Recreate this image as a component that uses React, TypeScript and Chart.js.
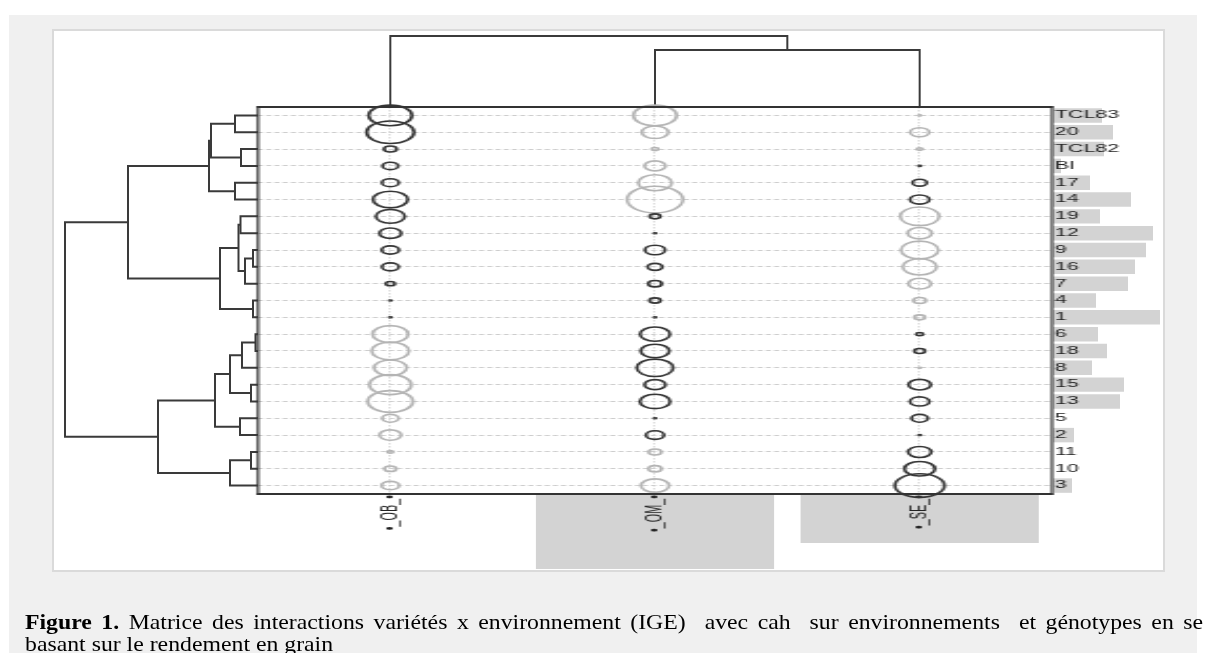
import React, { useEffect, useRef } from "react";
import { Chart, registerables } from "chart.js";

Chart.register(...registerables);

// ---------------- data ----------------
const genotypes = ["TCL83", "20", "TCL82", "BI", "17", "14", "19", "12", "9", "16", "7", "4", "1", "6", "18", "8", "15", "13", "5", "2", "11", "10", "3"];
const environments = ["OB", "OM", "SE"];
const environmentLabels = ["•_OB_•", "•_OM_•", "•_SE_•"];

// interaction values (sign: dark = positive, light = negative)
const interactionOB = [11, 12, 3.7, 4.4, 4.7, 9, 7.6, 5.9, 4.8, 4.7, 2.8, 0.8, 1, -9.2, -9.6, -8.5, -10.7, -11.5, -4.6, -5.9, -2, -3.5, -4.9];
const interactionOM = [-11, -7, -2.3, -5.7, -8.7, -14, 3.2, 1, 5.5, 4.2, 3.9, 3.3, 1, 7.8, 7.5, 9.4, 5.7, 7.9, 1, 5, -3.7, -3.8, -7.4];
const interactionSE = [-1, -5.2, -2, 1.2, 4.1, 5.3, -10, -6.4, -9.6, -8.8, -6.1, -3.7, -3.2, 2.3, 3.2, -0.8, 6, 5.3, 4.6, 1, 6.2, 8, 12.5];

// marginal bars
const genotypeBars = [49, 60, 51, 8, 37, 78, 47, 100, 93, 82, 75, 43, 107, 45, 54, 39, 71, 67, 0, 21, 0, 0, 19];
const environmentBars = [0, 75, 49];

// hierarchical clustering merges, R style: [left, right, height]; negative = leaf (1-based), positive = earlier merge
const genotypeMerges = [
  [-1, -2, 23], [-3, -4, 17], [-5, -6, 23], [1, 2, 47], [4, 3, 49],
  [-7, -8, 17.5], [-9, -10, 5], [7, -11, 13], [6, 8, 19.5], [-12, -13, 5],
  [9, 10, 38], [5, 11, 130], [-14, -15, 2.5], [13, -16, 16], [-17, -18, 7],
  [14, 15, 28], [-19, -20, 18], [16, 17, 43], [-21, -22, 7], [19, -23, 28],
  [18, 20, 100], [12, 21, 193],
];
const environmentMerges = [[-2, -3, 57], [-1, 1, 71]];

// ---------------- styles ----------------
const DARK = "#353535";
const LIGHT = "#b4b4b4";
const TREE = "#3a3a3a";
const BAR = "#d3d3d3";
const GRID = "#cdcdcd";
const SX = 2.1;
const FONT = "'Liberation Sans', Arial, sans-serif";

function dendrogram(merges: number[][]) {
  const pos: number[] = [];
  const hts: number[] = [];
  return merges.map(([a, b, h], i) => {
    const A = a < 0 ? { p: -a - 1, h: 0 } : { p: pos[a - 1], h: hts[a - 1] };
    const B = b < 0 ? { p: -b - 1, h: 0 } : { p: pos[b - 1], h: hts[b - 1] };
    pos[i] = (A.p + B.p) / 2;
    hts[i] = h;
    return { A, B, h };
  });
}

const baseOptions = {
  animation: false as const,
  responsive: false,
  maintainAspectRatio: false,
  events: [] as any[],
  plugins: { legend: { display: false }, tooltip: { enabled: false } },
};

const framePlugin = {
  id: "frame",
  afterDraw(chart: any) {
    const { ctx, chartArea } = chart;
    const { left, right, top, bottom } = chartArea;
    ctx.save();
    ctx.strokeStyle = "#333";
    ctx.lineWidth = 2;
    ctx.beginPath();
    ctx.moveTo(left - 0.6, top);
    ctx.lineTo(right + 0.6, top);
    ctx.moveTo(left - 0.6, bottom);
    ctx.lineTo(right + 0.6, bottom);
    ctx.stroke();
    ctx.lineWidth = 1.2;
    ctx.beginPath();
    ctx.moveTo(left, top - 1);
    ctx.lineTo(left, bottom + 1);
    ctx.moveTo(right, top - 1);
    ctx.lineTo(right, bottom + 1);
    ctx.stroke();
    ctx.restore();
  },
};

function useChart(ref: React.RefObject<HTMLCanvasElement>, make: () => any) {
  useEffect(() => {
    if (!ref.current) return;
    const chart = new Chart(ref.current, make());
    return () => chart.destroy();
  }, []);
}

export default function App() {
  const leftRef = useRef<HTMLCanvasElement>(null);
  const topRef = useRef<HTMLCanvasElement>(null);
  const rightRef = useRef<HTMLCanvasElement>(null);
  const bottomRef = useRef<HTMLCanvasElement>(null);
  const matrixRef = useRef<HTMLCanvasElement>(null);

  // left dendrogram (genotypes)
  useChart(leftRef, () => ({
    type: "scatter",
    data: {
      datasets: dendrogram(genotypeMerges).map(({ A, B, h }) => ({
        data: [{ x: A.h, y: A.p }, { x: h, y: A.p }, { x: h, y: B.p }, { x: B.h, y: B.p }],
        showLine: true,
        borderColor: TREE,
        borderWidth: 2,
        pointRadius: 0,
        borderJoinStyle: "miter",
        clip: false,
      })),
    },
    options: {
      ...baseOptions,
      layout: { autoPadding: false, padding: { left: 10, right: 5, top: 10, bottom: 10 } },
      scales: {
        x: { type: "linear", display: false, min: 0, max: 198, reverse: true },
        y: { type: "linear", display: false, min: -0.5, max: 22.5, reverse: true },
      },
    },
  }));

  // top dendrogram (environments)
  useChart(topRef, () => ({
    type: "scatter",
    data: {
      datasets: dendrogram(environmentMerges).map(({ A, B, h }) => ({
        data: [{ x: A.p, y: A.h }, { x: A.p, y: h }, { x: B.p, y: h }, { x: B.p, y: B.h }],
        showLine: true,
        borderColor: TREE,
        borderWidth: 2,
        pointRadius: 0,
        borderJoinStyle: "miter",
        clip: false,
      })),
    },
    options: {
      ...baseOptions,
      layout: { autoPadding: false, padding: { left: 10, right: 10, top: 10, bottom: 10 } },
      scales: {
        x: { type: "linear", display: false, min: -0.5, max: 2.5 },
        y: { type: "linear", display: false, min: 0, max: 77 },
      },
    },
  }));

  // right bars (genotypes)
  useChart(rightRef, () => ({
    type: "bar",
    data: {
      labels: genotypes,
      datasets: [{ data: genotypeBars, backgroundColor: BAR, barPercentage: 0.86, categoryPercentage: 1 }],
    },
    options: {
      ...baseOptions,
      indexAxis: "y",
      layout: { autoPadding: false, padding: { left: 0, right: 10, top: 7, bottom: 7 } },
      scales: {
        x: { type: "linear", display: false, min: 0, max: 110 },
        y: { type: "category", display: false },
      },
    },
  }));

  // bottom bars (environments)
  useChart(bottomRef, () => ({
    type: "bar",
    data: {
      labels: environments,
      datasets: [{ data: environmentBars, backgroundColor: BAR, barPercentage: 0.9, categoryPercentage: 1 }],
    },
    options: {
      ...baseOptions,
      layout: { autoPadding: false, padding: { left: 10, right: 10, top: 0, bottom: 10 } },
      scales: {
        x: { type: "category", display: false },
        y: { type: "linear", display: false, min: 0, max: 80, reverse: true },
      },
    },
  }));

  // central bubble matrix (drawn in a horizontally stretched canvas)
  useChart(matrixRef, () => {
    const cols = [interactionOB, interactionOM, interactionSE];
    const points: any[] = [];
    cols.forEach((col, j) =>
      col.forEach((v, i) => points.push({ x: j, y: i, r: Math.max(Math.abs(v) - 0.7, 0.5), v }))
    );
    const L = 258 / SX;
    const R = 1052 / SX;
    return {
      type: "bubble",
      data: {
        datasets: [
          {
            data: points,
            backgroundColor: "rgba(0,0,0,0)",
            borderColor: (c: any) => (c.raw && c.raw.v >= 0 ? DARK : LIGHT),
            borderWidth: 1.6,
            clip: false,
          },
        ],
      },
      options: {
        ...baseOptions,
        layout: {
          autoPadding: false,
          padding: { left: L - 110, top: 17, right: 550 - R - 40, bottom: 560 - 494 - 50 },
        },
        scales: {
          x: {
            type: "linear",
            position: "bottom",
            min: -0.5,
            max: 2.5,
            afterBuildTicks: (s: any) => {
              s.ticks = [0, 1, 2].map((v) => ({ value: v }));
            },
            afterFit: (s: any) => {
              s.height = 50;
              s.paddingLeft = 0;
              s.paddingRight = 0;
            },
            ticks: {
              callback: (v: any) => environmentLabels[v],
              minRotation: 90,
              maxRotation: 90,
              autoSkip: false,
              padding: 1,
              color: "#222",
              font: { family: FONT, size: 10.8 },
            },
            grid: { color: GRID, lineWidth: 0.7, drawTicks: false },
            border: { display: false, dash: [1.5, 1.5] },
          },
          y: {
            type: "linear",
            position: "right",
            min: -0.5,
            max: 22.5,
            reverse: true,
            afterBuildTicks: (s: any) => {
              s.ticks = genotypes.map((_, i) => ({ value: i }));
            },
            afterFit: (s: any) => {
              s.width = 40;
              s.paddingTop = 0;
              s.paddingBottom = 0;
            },
            ticks: {
              callback: (v: any) => genotypes[v],
              autoSkip: false,
              padding: 1.2,
              color: "#222",
              font: { family: FONT, size: 10.3 },
            },
            grid: { color: GRID, lineWidth: 1, drawTicks: false },
            border: { display: false, dash: [2.4, 1.5] },
          },
        },
      },
      plugins: [framePlugin],
    };
  });

  const abs = (l: number, t: number): React.CSSProperties => ({ position: "absolute", left: l, top: t });

  return (
    <div style={{ position: "absolute", left: 0, top: 0, width: 1205, height: 653, overflow: "hidden", background: "#fff" }}>
      <div style={{ ...abs(9, 15), width: 1188, height: 640, background: "#f0f0f0" }} />
      <div
        style={{
          ...abs(52, 29),
          width: 1113,
          height: 543,
          background: "#fff",
          border: "2px solid #dadada",
          boxSizing: "border-box",
        }}
      />
      <canvas ref={bottomRef} width={814} height={90} style={abs(248, 494)} />
      <canvas ref={rightRef} width={120} height={401} style={abs(1053, 100)} />
      <canvas ref={leftRef} width={213} height={407} style={abs(50, 97)} />
      <canvas ref={topRef} width={814} height={97} style={abs(248, 20)} />
      <div
        style={{
          ...abs(0, 0),
          width: 1205 / SX,
          height: 653,
          transform: `scaleX(${SX})`,
          transformOrigin: "0 0",
        }}
      >
        <canvas ref={matrixRef} width={440} height={470} style={abs(110, 90)} />
      </div>
      <div
        style={{
          ...abs(25, 610.5),
          width: 1178 / 1.08,
          transform: "scaleX(1.08)",
          transformOrigin: "0 0",
          fontFamily: "'Liberation Serif', 'Times New Roman', serif",
          fontSize: 22,
          lineHeight: "22px",
          color: "#000",
        }}
      >
        <div style={{ textAlign: "justify", textAlignLast: "justify" }}>
          <b>Figure 1.</b> Matrice des interactions variétés x environnement (IGE){"\u00a0"} avec cah{"\u00a0"} sur environnements{"\u00a0"} et génotypes en se
        </div>
        <div>basant sur le rendement en grain</div>
      </div>
    </div>
  );
}
